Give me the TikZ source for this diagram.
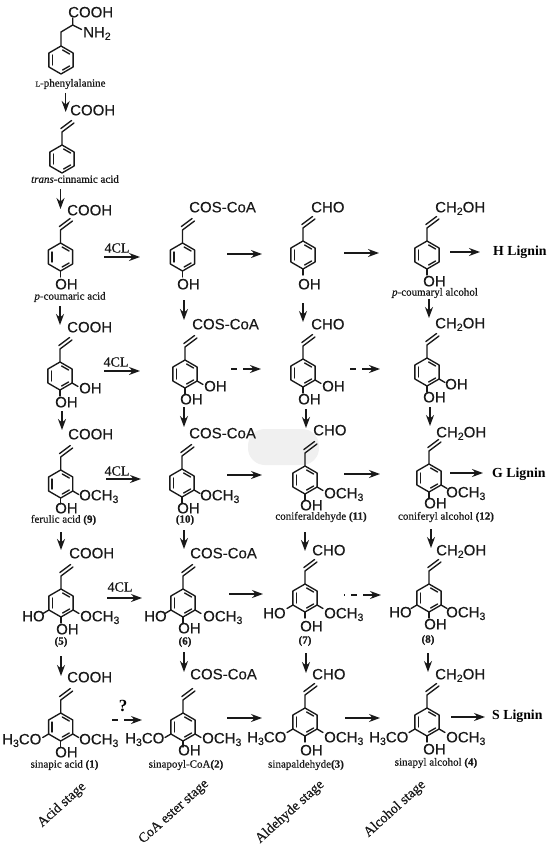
\documentclass[tikz,border=0pt]{standalone}
\usepackage{fontspec}
\setmainfont{Liberation Serif}
\newfontfamily\chemfont[FakeBold=0.25]{Liberation Sans}
\newfontfamily\capfont[FakeBold=0.5]{Liberation Serif}
\usetikzlibrary{arrows.meta}
\tikzset{
  x=1pt,y=-1pt,
  bond/.style={line width=1.35pt,black!90,line cap=round,line join=round},
  flow/.style={line width=1.3pt,black!90,-{Stealth[length=11pt,width=8pt]}},
  flowdash/.style={line width=1.3pt,black!90},
  chem/.style={inner sep=0pt,anchor=west,text height=10.7pt,text depth=0pt,font=\chemfont\fontsize{15}{15}\selectfont,text=black!90},
  molcap/.style={inner sep=0pt,font=\capfont\fontsize{11}{11}\selectfont,text=black!90},
  stagelabel/.style={inner sep=0pt,rotate=42,font=\capfont\fontsize{14}{14}\selectfont,text=black!90},
  lignin/.style={inner sep=0pt,anchor=west,font=\bfseries\fontsize{13.8}{13.8}\selectfont,text=black},
  enzyme/.style={inner sep=0pt,font=\capfont\fontsize{14}{14}\selectfont,text=black!90}
}
\newcommand{\sbs}[1]{\raisebox{-2.6pt}{\fontsize{10.5}{10.5}\selectfont #1}}
% ring: name, cx, cy
\newcommand{\molring}[3]{%
  \coordinate (#1) at (#2,#3);
  \begin{scope}[shift={(#2,#3)}]
    \draw[bond] (0,-14) -- (12.1,-7) -- (12.1,7) -- (0,14) -- (-12.1,7) -- (-12.1,-7) -- cycle;
    \draw[bond] (1.6,-10) -- (8.6,-6);
    \draw[bond] (8.6,6) -- (1.6,10);
    \draw[bond] (-8.6,-5) -- (-8.6,5);
  \end{scope}}
% vinyl chain from the top vertex
\newcommand{\molvinyl}[1]{%
  \begin{scope}[shift={(#1)}]
    \draw[bond] (0,-14) -- (0,-27) -- (12,-36);
    \draw[bond] (-1.2,-30.4) -- (9.6,-38.5);
  \end{scope}}
% substituent bonds
\newcommand{\subpara}[1]{\begin{scope}[shift={(#1)}]\draw[bond] (0,14) -- (0,20);\end{scope}}
\newcommand{\subright}[1]{\begin{scope}[shift={(#1)}]\draw[bond] (12.1,7) -- (18,10.5);\end{scope}}
\newcommand{\subleft}[1]{\begin{scope}[shift={(#1)}]\draw[bond] (-12.1,7) -- (-18,10.5);\end{scope}}
\newcommand{\txt}[4]{\node[chem] (#1) at (#2,#3) {#4};}
\newcommand{\arrow}[5]{%
  \coordinate (#1s) at (#2,#3); \coordinate (#1e) at (#4,#5);
  \draw[flow] (#1s) -- (#1e);}
% dashed arrow: dash, gap, arrow
\newcommand{\dasharrow}[4]{%
  \coordinate (#1a) at (#2,#4); \coordinate (#1b) at ({#2+6},#4);
  \coordinate (#1c) at ({#2+12},#4); \coordinate (#1d) at (#3,#4);
  \draw[flowdash] (#1a) -- (#1b);
  \draw[flow] (#1c) -- (#1d);}
\newcommand{\COOH}{COOH}
\newcommand{\COS}{COS-CoA}
\newcommand{\CHO}{CHO}
\newcommand{\CHOH}{CH\sbs{2}OH}
\newcommand{\OCH}{OCH\sbs{3}}
\newcommand{\HCO}{H\sbs{3}CO}
\begin{document}
\begin{tikzpicture}
\useasboundingbox (0,0) rectangle (558,848);
\fill[white] (0,0) rectangle (558,848);
\fill[black!6,rounded corners=17pt] (248,429) rectangle (319,465);

% ---------- column 1: acids
\molring{m1}{61}{60}
\draw[bond] (61,46) -- (61,32) -- (72.7,25) -- (72.7,18);
\draw[bond] (72.7,25) -- (81.5,29.5);
\txt{t1a}{68}{12}{\COOH}
\txt{t1b}{83}{32}{NH\sbs{2}}
\node[molcap] (c1) at (70.5,84) {{\fontsize{7.5}{7.5}\selectfont L}-phenylalanine};

\molring{m2}{62}{159}\molvinyl{m2}
\txt{t2a}{70}{110}{\COOH}
\node[molcap] (c2) at (75,179) {\textit{trans}-cinnamic acid};

\molring{m3}{60.5}{257}\molvinyl{m3}\subpara{m3}
\txt{t3a}{67}{210}{\COOH}
\txt{t3b}{55}{284}{OH}
\node[molcap] (c3) at (70,297) {\textit{p}-coumaric acid};

\molring{m4}{60}{376}\molvinyl{m4}\subpara{m4}\subright{m4}
\txt{t4a}{67}{327}{\COOH}
\txt{t4b}{79}{388}{OH}
\txt{t4c}{55}{402}{OH}

\molring{m5}{60.7}{484}\molvinyl{m5}\subpara{m5}\subright{m5}
\txt{t5a}{68}{434}{\COOH}
\txt{t5b}{79}{495}{\OCH}
\txt{t5c}{55}{508}{OH}
\node[molcap] (c5) at (63.5,520) {ferulic acid \textbf{(9)}};

\molring{m6}{61}{603}\molvinyl{m6}\subpara{m6}\subright{m6}\subleft{m6}
\txt{t6a}{69}{553}{\COOH}
\txt{t6b}{80}{616}{\OCH}
\txt{t6c}{22}{616}{HO}
\txt{t6d}{56}{629}{OH}
\node[molcap] (c6) at (61,642) {\textbf{(5)}};

\molring{m7}{60.7}{727}\molvinyl{m7}\subpara{m7}\subright{m7}\subleft{m7}
\txt{t7a}{67}{677}{\COOH}
\txt{t7b}{79}{739}{\OCH}
\txt{t7c}{2}{739}{\HCO}
\txt{t7d}{55}{752}{OH}
\node[molcap] (c7) at (64.5,765) {sinapic acid \textbf{(1)}};

% ---------- column 2: CoA esters
\molring{n3}{182.5}{257}\molvinyl{n3}\subpara{n3}
\txt{u3a}{189}{207}{\COS}
\txt{u3b}{177}{284}{OH}

\molring{n4}{185}{374}\molvinyl{n4}\subpara{n4}\subright{n4}
\txt{u4a}{192}{324}{\COS}
\txt{u4b}{204}{386}{OH}
\txt{u4c}{180}{399}{OH}

\molring{n5}{182}{483}\molvinyl{n5}\subpara{n5}\subright{n5}
\txt{u5a}{189}{433}{\COS}
\txt{u5b}{200}{495}{\OCH}
\txt{u5c}{177}{508}{OH}
\node[molcap] (d5) at (185,520) {\textbf{(10)}};

\molring{n6}{183}{603}\molvinyl{n6}\subpara{n6}\subright{n6}\subleft{n6}
\txt{u6a}{190}{553}{\COS}
\txt{u6b}{203}{616}{\OCH}
\txt{u6c}{144}{616}{HO}
\txt{u6d}{178}{628}{OH}
\node[molcap] (d6) at (185,642) {\textbf{(6)}};

\molring{n7}{183}{727}\molvinyl{n7}\subpara{n7}\subright{n7}\subleft{n7}
\txt{u7a}{190}{674}{\COS}
\txt{u7b}{202}{738}{\OCH}
\txt{u7c}{125}{738}{\HCO}
\txt{u7d}{178}{750}{OH}
\node[molcap] (d7) at (186,765) {sinapoyl-CoA\textbf{(2)}};

% ---------- column 3: aldehydes
\molring{p3}{303}{255}\molvinyl{p3}\subpara{p3}
\txt{v3a}{311}{207}{\CHO}
\txt{v3b}{298}{284}{OH}

\molring{p4}{303}{373}\molvinyl{p4}\subpara{p4}\subright{p4}
\txt{v4a}{311}{324}{\CHO}
\txt{v4b}{322}{386}{OH}
\txt{v4c}{298}{399}{OH}

\molring{p5}{305}{480}\molvinyl{p5}\subpara{p5}\subright{p5}
\txt{v5a}{313}{430}{\CHO}
\txt{v5b}{324}{493}{\OCH}
\txt{v5c}{300}{505}{OH}
\node[molcap] (e5) at (321,517) {coniferaldehyde \textbf{(11)}};

\molring{p6}{305}{598}\molvinyl{p6}\subpara{p6}\subright{p6}\subleft{p6}
\txt{v6a}{312}{550}{\CHO}
\txt{v6b}{324}{613}{\OCH}
\txt{v6c}{263}{613}{HO}
\txt{v6d}{300}{626}{OH}
\node[molcap] (e6) at (305,641) {\textbf{(7)}};

\molring{p7}{305}{722}\molvinyl{p7}\subpara{p7}\subright{p7}\subleft{p7}
\txt{v7a}{312}{674}{\CHO}
\txt{v7b}{324}{737}{\OCH}
\txt{v7c}{247}{737}{\HCO}
\txt{v7d}{300}{750}{OH}
\node[molcap] (e7) at (306,765) {sinapaldehyde\textbf{(3)}};

% ---------- column 4: alcohols
\molring{q3}{427}{255}\molvinyl{q3}\subpara{q3}
\txt{w3a}{435}{207}{\CHOH}
\txt{w3b}{423}{281}{OH}
\node[molcap] (f3) at (435,293) {\textit{p}-coumaryl alcohol};

\molring{q4}{427}{372}\molvinyl{q4}\subpara{q4}\subright{q4}
\txt{w4a}{435}{323}{\CHOH}
\txt{w4b}{445}{384}{OH}
\txt{w4c}{423}{397}{OH}

\molring{q5}{429}{478}\molvinyl{q5}\subpara{q5}\subright{q5}
\txt{w5a}{436}{432}{\CHOH}
\txt{w5b}{446}{492}{\OCH}
\txt{w5c}{424}{503}{OH}
\node[molcap] (f5) at (446,517) {coniferyl alcohol \textbf{(12)}};

\molring{q6}{429}{598}\molvinyl{q6}\subpara{q6}\subright{q6}\subleft{q6}
\txt{w6a}{436}{550}{\CHOH}
\txt{w6b}{446}{612}{\OCH}
\txt{w6c}{389}{612}{HO}
\txt{w6d}{424}{624}{OH}
\node[molcap] (f6) at (428,640) {\textbf{(8)}};

\molring{q7}{427}{722}\molvinyl{q7}\subpara{q7}\subright{q7}\subleft{q7}
\txt{w7a}{435}{674}{\CHOH}
\txt{w7b}{446}{737}{\OCH}
\txt{w7c}{369}{737}{\HCO}
\txt{w7d}{423}{749}{OH}
\node[molcap] (f7) at (436,763) {sinapyl alcohol \textbf{(4)}};

% ---------- lignins
\node[lignin] (hl) at (493,252) {H Lignin};
\node[lignin] (gl) at (492,474) {G Lignin};
\node[lignin] (sl) at (492,716) {S Lignin};

% ---------- vertical arrows
\arrow{a1}{65.7}{93}{65.7}{112}
\arrow{a2}{60.5}{189}{60.5}{209}
\arrow{a3}{60}{306}{60}{325}
\arrow{a4}{62}{411}{62}{430}
\arrow{a5}{61}{532}{61}{550}
\arrow{a6}{61}{656}{61}{676}
\arrow{b3}{184}{300}{184}{320}
\arrow{b4}{184}{407}{184}{427}
\arrow{b5}{184}{530}{184}{549}
\arrow{b6}{184}{652}{184}{672}
\arrow{c3}{303}{303}{303}{322}
\arrow{c4}{306}{409}{306}{428}
\arrow{c5}{305}{532}{305}{551}
\arrow{c6}{306}{653}{306}{673}
\arrow{d3}{429}{299}{429}{318}
\arrow{d4}{430}{407}{430}{426}
\arrow{d5}{431}{529}{431}{548}
\arrow{d6}{428}{653}{428}{672}

% ---------- horizontal arrows
\arrow{h11}{104}{257}{140}{257}
\arrow{h12}{227}{254}{262}{254}
\arrow{h13}{344}{253}{379}{253}
\arrow{h14}{450}{252}{480}{252}
\arrow{h21}{104}{371}{140}{371}
\dasharrow{h22}{231}{261}{369}
\dasharrow{h23}{350}{380}{369}
\arrow{h31}{106}{479}{141}{479}
\arrow{h32}{227}{475}{262}{475}
\arrow{h33}{344}{474}{380}{474}
\arrow{h34}{450}{473}{483}{473}
\arrow{h41}{107}{598}{142}{598}
\arrow{h42}{229}{594}{263}{594}
\coordinate (h43o) at (344,595); \coordinate (h43p) at (345,595);
\draw[flowdash] (h43o) -- (h43p);
\dasharrow{h43}{351}{381}{595}
\dasharrow{h51}{112}{142}{720}
\arrow{h52}{227}{718}{262}{718}
\arrow{h53}{345}{718}{380}{718}
\arrow{h54}{451}{717}{485}{717}

% ---------- enzyme labels
\node[enzyme] (k1) at (117,248) {4CL};
\node[enzyme] (k2) at (116,362) {4CL};
\node[enzyme] (k3) at (117,471) {4CL};
\node[enzyme] (k4) at (120,587) {4CL};
\node[inner sep=0pt,font=\bfseries\fontsize{17}{17}\selectfont,text=black] (k5) at (123,706) {?};

% ---------- stage labels
\node[stagelabel] (s1) at (62,805) {Acid stage};
\node[stagelabel] (s2) at (174,812) {CoA ester stage};
\node[stagelabel] (s3) at (290,812) {Aldehyde stage};
\node[stagelabel] (s4) at (395,809) {Alcohol stage};
\end{tikzpicture}
\end{document}
